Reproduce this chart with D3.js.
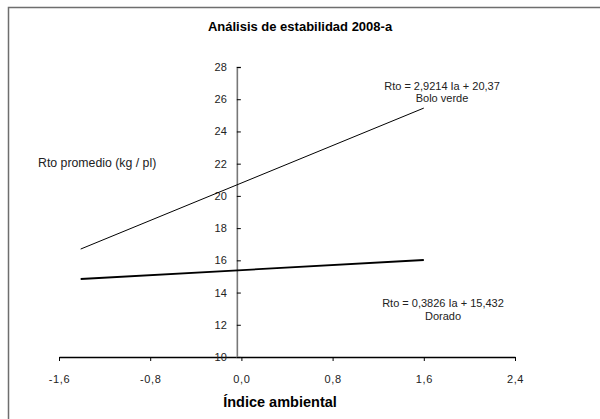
<!DOCTYPE html>
<html>
<head>
<meta charset="utf-8">
<script src="https://cdn.jsdelivr.net/npm/d3@7"></script>
<style>
  body { margin: 0; background: #fff; }
  svg { display: block; font-family: "Liberation Sans", Arial, sans-serif; }
</style>
</head>
<body>
<div id="chart"></div>
<script>
// data
const xTicks = [-1.6, -0.8, 0.0, 0.8, 1.6, 2.4];
const yTicks = [10, 12, 14, 16, 18, 20, 22, 24, 26, 28];
const boloX = [-1.41, 1.6];
const boloY = [16.7, 25.45];
const doradoX = [-1.41, 1.6];
const doradoY = [14.84, 16.02];
const boloEq = ["Rto = 2,9214 Ia + 20,37", "Bolo verde"];
const doradoEq = ["Rto = 0,3826 Ia + 15,432", "Dorado"];

const width = 600, height = 419;

const svg = d3.select("#chart").append("svg")
  .attr("width", width)
  .attr("height", height);

// outer frame (cut off on right / bottom like the picture)
svg.append("rect")
  .attr("x", 8.5).attr("y", 7.5)
  .attr("width", 620).attr("height", 440)
  .attr("fill", "none")
  .attr("stroke", "#6e6e6e")
  .attr("stroke-width", 1.5);

var x = d3.scaleLinear().domain([-1.6, 2.4]).range([59, 515]);
var y = d3.scaleLinear().domain([10, 28]).range([357, 67]);

const fmt = d => d.toFixed(1).replace(".", ",");

// x axis at y = 10
var xAxis = svg.append("g")
  .attr("transform", "translate(0," + y(10) + ")")
  .call(d3.axisBottom(x).tickValues(xTicks).tickFormat(fmt).tickSize(4).tickSizeOuter(0));
xAxis.select(".domain").attr("stroke", "#000").attr("stroke-width", 1.5);
xAxis.selectAll(".tick line").attr("stroke", "#000");
xAxis.selectAll("text")
  .attr("font-size", 11)
  .attr("fill", "#222")
  .attr("y", 18)
  .attr("letter-spacing", 0.6);

// y axis crossing slightly left of 0
var yAxis = svg.append("g")
  .attr("transform", "translate(" + x(-0.04) + ",0)")
  .call(d3.axisRight(y).tickValues(yTicks).tickSize(4).tickSizeOuter(4));
yAxis.select(".domain").attr("stroke", "#777").attr("stroke-width", 1.6);
yAxis.selectAll(".tick line").attr("stroke", "#000");
yAxis.selectAll("text")
  .attr("x", -10)
  .attr("text-anchor", "end")
  .attr("font-size", 11)
  .attr("fill", "#222");

var line = d3.line().x(d => x(d[0])).y(d => y(d[1]));

svg.append("path")
  .datum(d3.zip(boloX, boloY))
  .attr("d", line)
  .attr("fill", "none")
  .attr("stroke", "#000")
  .attr("stroke-width", 1);

svg.append("path")
  .datum(d3.zip(doradoX, doradoY))
  .attr("d", line)
  .attr("fill", "none")
  .attr("stroke", "#000")
  .attr("stroke-width", 1.8);

// title
svg.append("text")
  .attr("x", 300).attr("y", 31)
  .attr("text-anchor", "middle")
  .attr("font-size", 13).attr("font-weight", "bold")
  .text("Análisis de estabilidad 2008-a");

// axis title
svg.append("text")
  .attr("x", 280).attr("y", 407)
  .attr("text-anchor", "middle")
  .attr("font-size", 14.5).attr("font-weight", "bold")
  .text("Índice ambiental");

svg.append("text")
  .attr("x", 38).attr("y", 167)
  .attr("font-size", 12.3)
  .attr("fill", "#222")
  .text("Rto promedio (kg / pl)");

// equation labels
svg.selectAll("text.bolo")
  .data(boloEq).enter().append("text")
  .attr("class", "bolo")
  .attr("x", 442).attr("y", (d, i) => 89.5 + i * 12)
  .attr("text-anchor", "middle")
  .attr("font-size", 11).attr("fill", "#222")
  .text(d => d);

svg.selectAll("text.dorado")
  .data(doradoEq).enter().append("text")
  .attr("class", "dorado")
  .attr("x", 443).attr("y", (d, i) => 307 + i * 13)
  .attr("text-anchor", "middle")
  .attr("font-size", 11).attr("fill", "#222")
  .text(d => d);
</script>
</body>
</html>
